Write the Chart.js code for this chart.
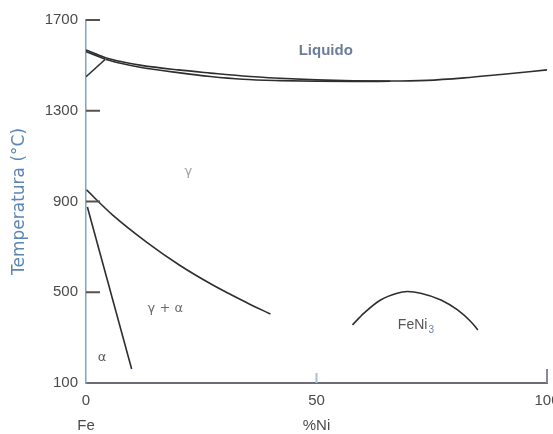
<!DOCTYPE html>
<html>
<head>
<meta charset="utf-8">
<script src="https://cdn.jsdelivr.net/npm/chart.js@4"></script>
<style>
  body { margin: 0; background: #fff; }
  #wrap { width: 553px; height: 434px; }
</style>
</head>
<body>
<div id="wrap"><canvas id="diagram" width="553" height="434"></canvas></div>
<script>
// Fe-Ni phase diagram (%Ni, °C)
const liquidusNi = [0, 4.1, 8, 12, 20, 27, 34, 42, 50, 58, 66, 74, 82, 90, 100];
const liquidusT  = [1568, 1535, 1515, 1500, 1480, 1466, 1453, 1443, 1436, 1432, 1431, 1434, 1445, 1460, 1480];
const solidusNi  = [4.3, 8, 12, 20, 27, 34, 42, 50, 58, 66];
const solidusT   = [1526, 1507, 1491, 1468, 1451, 1439, 1433, 1430, 1429, 1430];
const deltaUpNi  = [0, 4.2];
const deltaUpT   = [1561, 1527];
const deltaLowNi = [0, 4.2];
const deltaLowT  = [1450, 1527];
const gammaNi    = [0.1, 5.8, 13.2, 20.4, 27.6, 35, 40];
const gammaT     = [951, 840, 720, 618, 531, 453, 404];
const alphaNi    = [0.3, 9.9];
const alphaT     = [876, 162];
const feni3Ni    = [57.8, 60.3, 63.9, 67.5, 69.7, 72.6, 77.0, 80.6, 83.5, 85.0];
const feni3T     = [356, 408, 466, 496, 503, 496, 466, 422, 370, 334];

const xTicks    = [0, 50, 100];
const xTickText = ['0', '50', '100'];
const xSubText  = ['Fe', '%Ni', ''];
const yTicks    = [100, 500, 900, 1300, 1700];

function toPoints(xs, ys) {
    return xs.map((v, i) => ({ x: v, y: ys[i] }));
}

function line(xs, ys, smooth) {
    return {
        data: toPoints(xs, ys),
        showLine: true,
        borderColor: '#2e2e2e',
        borderWidth: 1.6,
        pointRadius: 0,
        fill: false,
        cubicInterpolationMode: smooth ? 'monotone' : 'default',
        tension: 0
    };
}

// region labels drawn inside the plot
const notes = [
    { text: 'Liquido', ni: 52, t: 1563, font: 'bold 15px "Liberation Sans"', color: '#6c7d99' },
    { text: 'γ', ni: 22.2, t: 1030, font: '13px "DejaVu Sans"', color: '#a0a0a0' },
    { text: 'γ + α', ni: 17.2, t: 430, font: '13px "DejaVu Sans"', color: '#6a6a6a' },
    { text: 'α', ni: 3.5, t: 210, font: '13px "DejaVu Sans"', color: '#5a5a5a' }
];

const phasePlugin = {
    id: 'phaseExtras',
    afterDraw(chart) {
        const { ctx, scales: { x, y } } = chart;
        ctx.save();

        // tick marks pointing into the plot
        ctx.strokeStyle = '#5a5048';
        ctx.lineWidth = 2;
        yTicks.forEach(v => {
            if (v === yTicks[0]) return;
            const py = y.getPixelForValue(v);
            ctx.beginPath();
            ctx.moveTo(x.left, py);
            ctx.lineTo(x.left + 14, py);
            ctx.stroke();
        });
        xTicks.forEach(v => {
            if (v === xTicks[0]) return;
            const px = x.getPixelForValue(v);
            ctx.strokeStyle = v === 50 ? '#a9bfd4' : '#8a8a96';
            ctx.beginPath();
            ctx.moveTo(px, y.bottom);
            ctx.lineTo(px, y.bottom - (v === 50 ? 10 : 14));
            ctx.stroke();
        });

        ctx.textAlign = 'center';
        ctx.textBaseline = 'middle';
        notes.forEach(n => {
            ctx.font = n.font;
            ctx.fillStyle = n.color;
            ctx.fillText(n.text, x.getPixelForValue(n.ni), y.getPixelForValue(n.t));
        });

        // FeNi3 with subscript
        const fx = x.getPixelForValue(71.5);
        const fy = y.getPixelForValue(356);
        ctx.font = '14px "Liberation Sans"';
        ctx.fillStyle = '#555';
        ctx.textAlign = 'left';
        const w = ctx.measureText('FeNi').width;
        ctx.fillText('FeNi', fx - w / 2 - 3, fy);
        ctx.font = '10px "Liberation Sans"';
        ctx.fillStyle = '#6a7fa8';
        ctx.fillText('3', fx + w / 2 - 2, fy + 5);

        ctx.restore();
    }
};

const ctx = document.getElementById('diagram').getContext('2d');
const chart = new Chart(ctx, {
    type: 'scatter',
    data: {
        datasets: [
            line(liquidusNi, liquidusT, true),
            line(solidusNi, solidusT, true),
            line(deltaUpNi, deltaUpT),
            line(deltaLowNi, deltaLowT),
            line(gammaNi, gammaT, true),
            line(alphaNi, alphaT),
            line(feni3Ni, feni3T, true)
        ]
    },
    options: {
        responsive: false,
        animation: false,
        layout: { padding: { left: 0, top: 20, right: 6, bottom: 0 } },
        plugins: {
            legend: { display: false },
            tooltip: { enabled: false }
        },
        scales: {
            x: {
                type: 'linear',
                min: 0,
                max: 100,
                afterBuildTicks: scale => { scale.ticks = xTicks.map(v => ({ value: v })); },
                afterFit: scale => {
                    scale.height = 51;
                    scale.paddingLeft = 0;
                    scale.paddingRight = 0;
                },
                ticks: {
                    padding: 5,
                    maxRotation: 0,
                    color: '#4a4a4a',
                    font: { family: 'Liberation Sans', size: 15, lineHeight: 1.7 },
                    callback: value => {
                        const i = xTicks.indexOf(value);
                        return xSubText[i] ? [xTickText[i], xSubText[i]] : xTickText[i];
                    }
                },
                grid: { display: false, drawTicks: false },
                border: { display: true, color: '#6e6a78', width: 2 }
            },
            y: {
                type: 'linear',
                min: 100,
                max: 1700,
                afterBuildTicks: scale => { scale.ticks = yTicks.map(v => ({ value: v })); },
                afterFit: scale => {
                    scale.width = 86;
                    scale.paddingTop = 0;
                    scale.paddingBottom = 0;
                },
                ticks: {
                    padding: 8,
                    color: '#4a4a4a',
                    font: { family: 'Liberation Sans', size: 15 },
                    callback: value => String(value)
                },
                title: {
                    display: true,
                    text: 'Temperatura (°C)',
                    color: '#5b86b5',
                    font: { family: 'DejaVu Sans', size: 17 },
                    padding: { top: 9, bottom: 0 }
                },
                grid: { display: false, drawTicks: false },
                border: { display: true, color: '#7aa6c8', width: 1.5 }
            }
        }
    },
    plugins: [phasePlugin]
});
</script>
</body>
</html>
